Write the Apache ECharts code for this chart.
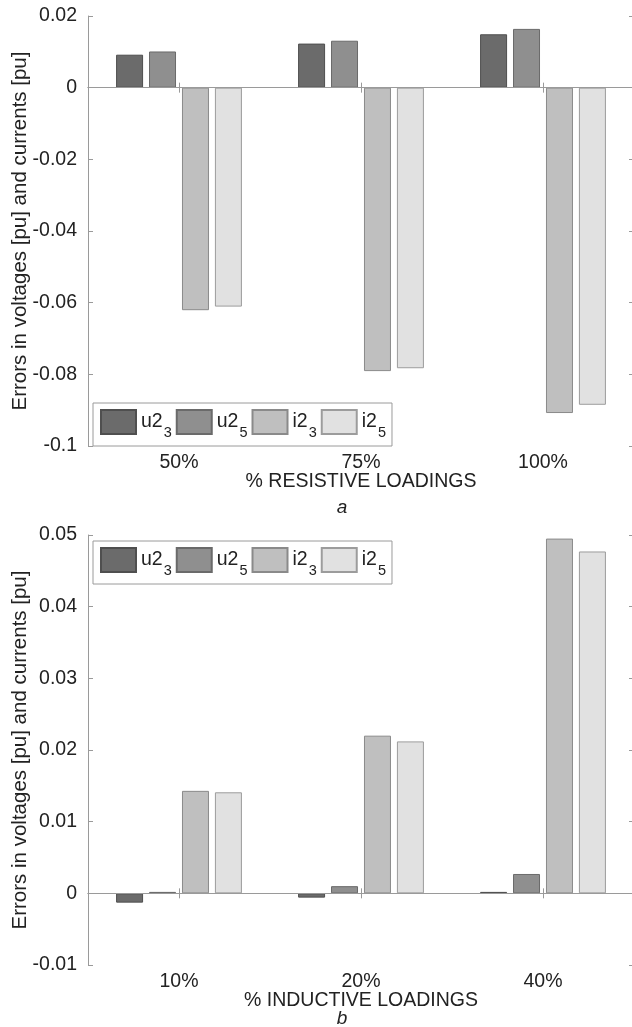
<!DOCTYPE html>
<html>
<head>
<meta charset="utf-8">
<script src="https://cdn.jsdelivr.net/npm/echarts@6/dist/echarts.min.js"></script>
<style>
html,body{margin:0;padding:0;background:#fff;}
#chart{width:632px;height:1027px;}
</style>
</head>
<body>
<div id="chart"></div>
<script>
// ---- data ----
var seriesNames = ['u2_3', 'u2_5', 'i2_3', 'i2_5'];
var catsA = ['50%', '75%', '100%'];
var u23A = [0.0092, 0.0123, 0.0149];
var u25A = [0.0101, 0.0131, 0.0164];
var i23A = [-0.0621, -0.0791, -0.0908];
var i25A = [-0.0611, -0.0783, -0.0885];
var catsB = ['10%', '20%', '40%'];
var u23B = [-0.0013, -0.0006, 0.0002];
var u25B = [0.0002, 0.0010, 0.0027];
var i23B = [0.0143, 0.0220, 0.0495];
var i25B = [0.0141, 0.0212, 0.0477];
var yTicksA = [-0.1, -0.08, -0.06, -0.04, -0.02, 0, 0.02];
var yTicksB = [-0.01, 0, 0.01, 0.02, 0.03, 0.04, 0.05];
var xTitleA = '% RESISTIVE LOADINGS';
var xTitleB = '% INDUCTIVE LOADINGS';
var yTitle = 'Errors in voltages [pu] and currents [pu]';

// ---- styles ----
var FONT = "'Liberation Sans', Arial, Helvetica, sans-serif";
var fills = ['#6b6b6b', '#8f8f8f', '#bfbfbf', '#e1e1e1'];
var borders = ['#4f4f4f', '#6a6a6a', '#8a8a8a', '#9c9c9c'];
var axisCol = '#9a9a9a';
var textCol = '#222';

function fmt(v) { return String(Math.round(v * 1000) / 1000); }

function xAxes(grid, cats, title) {
  return [{
    gridIndex: grid, type: 'category', data: cats, position: 'bottom',
    axisLine: { lineStyle: { color: axisCol, width: 1 } },
    axisTick: { show: true, inside: true, alignWithLabel: true, length: 5, lineStyle: { color: axisCol } },
    axisLabel: { fontSize: 19.5, color: textCol, fontFamily: FONT, margin: 7 },
    name: title, nameLocation: 'middle', nameGap: 26, nameMoveOverlap: false,
    nameTextStyle: { fontSize: 19.5, color: textCol, fontFamily: FONT },
    splitLine: { show: false }
  }, {
    gridIndex: grid, type: 'category', data: cats, position: 'top',
    axisLine: { lineStyle: { color: axisCol, width: 1 } },
    axisTick: { show: true, inside: true, alignWithLabel: true, length: 5, lineStyle: { color: axisCol } },
    axisLabel: { show: false }, splitLine: { show: false }
  }];
}
function yAxes(grid, ticks) {
  var mn = ticks[0], mx = ticks[ticks.length - 1], iv = ticks[1] - ticks[0];
  return [{
    gridIndex: grid, type: 'value', min: mn, max: mx, interval: iv, position: 'left',
    axisLine: { show: true, lineStyle: { color: axisCol, width: 1 } },
    axisTick: { show: true, inside: true, length: 5, lineStyle: { color: axisCol } },
    axisLabel: { fontSize: 19.5, color: textCol, fontFamily: FONT, margin: 11, formatter: fmt },
    splitLine: { show: false },
    name: yTitle, nameLocation: 'middle', nameGap: 57, nameMoveOverlap: false,
    nameTextStyle: { fontSize: 20.5, color: textCol, fontFamily: FONT }
  }, {
    gridIndex: grid, type: 'value', min: mn, max: mx, interval: iv, position: 'right',
    axisLine: { show: true, lineStyle: { color: axisCol, width: 1 } },
    axisTick: { show: true, inside: true, length: 5, lineStyle: { color: axisCol } },
    axisLabel: { show: false }, splitLine: { show: false }
  }];
}
function bars(grid, arrays) {
  return arrays.map(function (arr, k) {
    var s = {
      type: 'bar', name: seriesNames[k], data: arr,
      xAxisIndex: grid * 2, yAxisIndex: grid * 2,
      barWidth: 27, barGap: '22%',
      itemStyle: { color: fills[k], borderColor: borders[k], borderWidth: 1 },
      emphasis: { disabled: true }, animation: false
    };
    if (k === 0) {
      s.markLine = {
        silent: true, symbol: ['none', 'none'], label: { show: false },
        lineStyle: { color: axisCol, type: 'solid', width: 1 },
        data: [{ yAxis: 0 }], animation: false
      };
    }
    return s;
  });
}
function legend(top) {
  return {
    left: 93, top: top, orient: 'horizontal',
    data: seriesNames, icon: 'rect',
    itemWidth: 35, itemHeight: 24, itemGap: 4,
    padding: [6, 6, 6, 7],
    backgroundColor: '#fff', borderColor: axisCol, borderWidth: 1,
    selectedMode: false,
    formatter: function (n) { var p = n.split('_'); return '{b|' + p[0] + '}{s|' + p[1] + '}'; },
    textStyle: {
      fontFamily: FONT, color: textCol, fontSize: 19,
      rich: {
        b: { fontSize: 19.5, fontFamily: FONT, color: textCol, lineHeight: 20, verticalAlign: 'top' },
        s: { fontSize: 14.5, fontFamily: FONT, color: textCol, lineHeight: 14, padding: [13, 0, 0, 1], verticalAlign: 'top' }
      }
    }
  };
}

var chart = echarts.init(document.getElementById('chart'), null, { renderer: 'canvas' });
chart.setOption({
  animation: false,
  backgroundColor: '#fff',
  grid: [
    { left: 88, right: -2, top: 16, height: 430, containLabel: false, outerBoundsMode: 'none' },
    { left: 88, right: -2, top: 535, height: 430, containLabel: false, outerBoundsMode: 'none' }
  ],
  legend: [legend(403), legend(541)],
  xAxis: xAxes(0, catsA, xTitleA).concat(xAxes(1, catsB, xTitleB)),
  yAxis: yAxes(0, yTicksA).concat(yAxes(1, yTicksB)),
  series: bars(0, [u23A, u25A, i23A, i25A]).concat(bars(1, [u23B, u25B, i23B, i25B])),
  graphic: [
    { type: 'text', x: 342, y: 508, style: { text: 'a', align: 'center', verticalAlign: 'middle', font: 'italic 19px ' + FONT, fill: textCol } },
    { type: 'text', x: 342, y: 1019, style: { text: 'b', align: 'center', verticalAlign: 'middle', font: 'italic 19px ' + FONT, fill: textCol } }
  ]
});
</script>
</body>
</html>
